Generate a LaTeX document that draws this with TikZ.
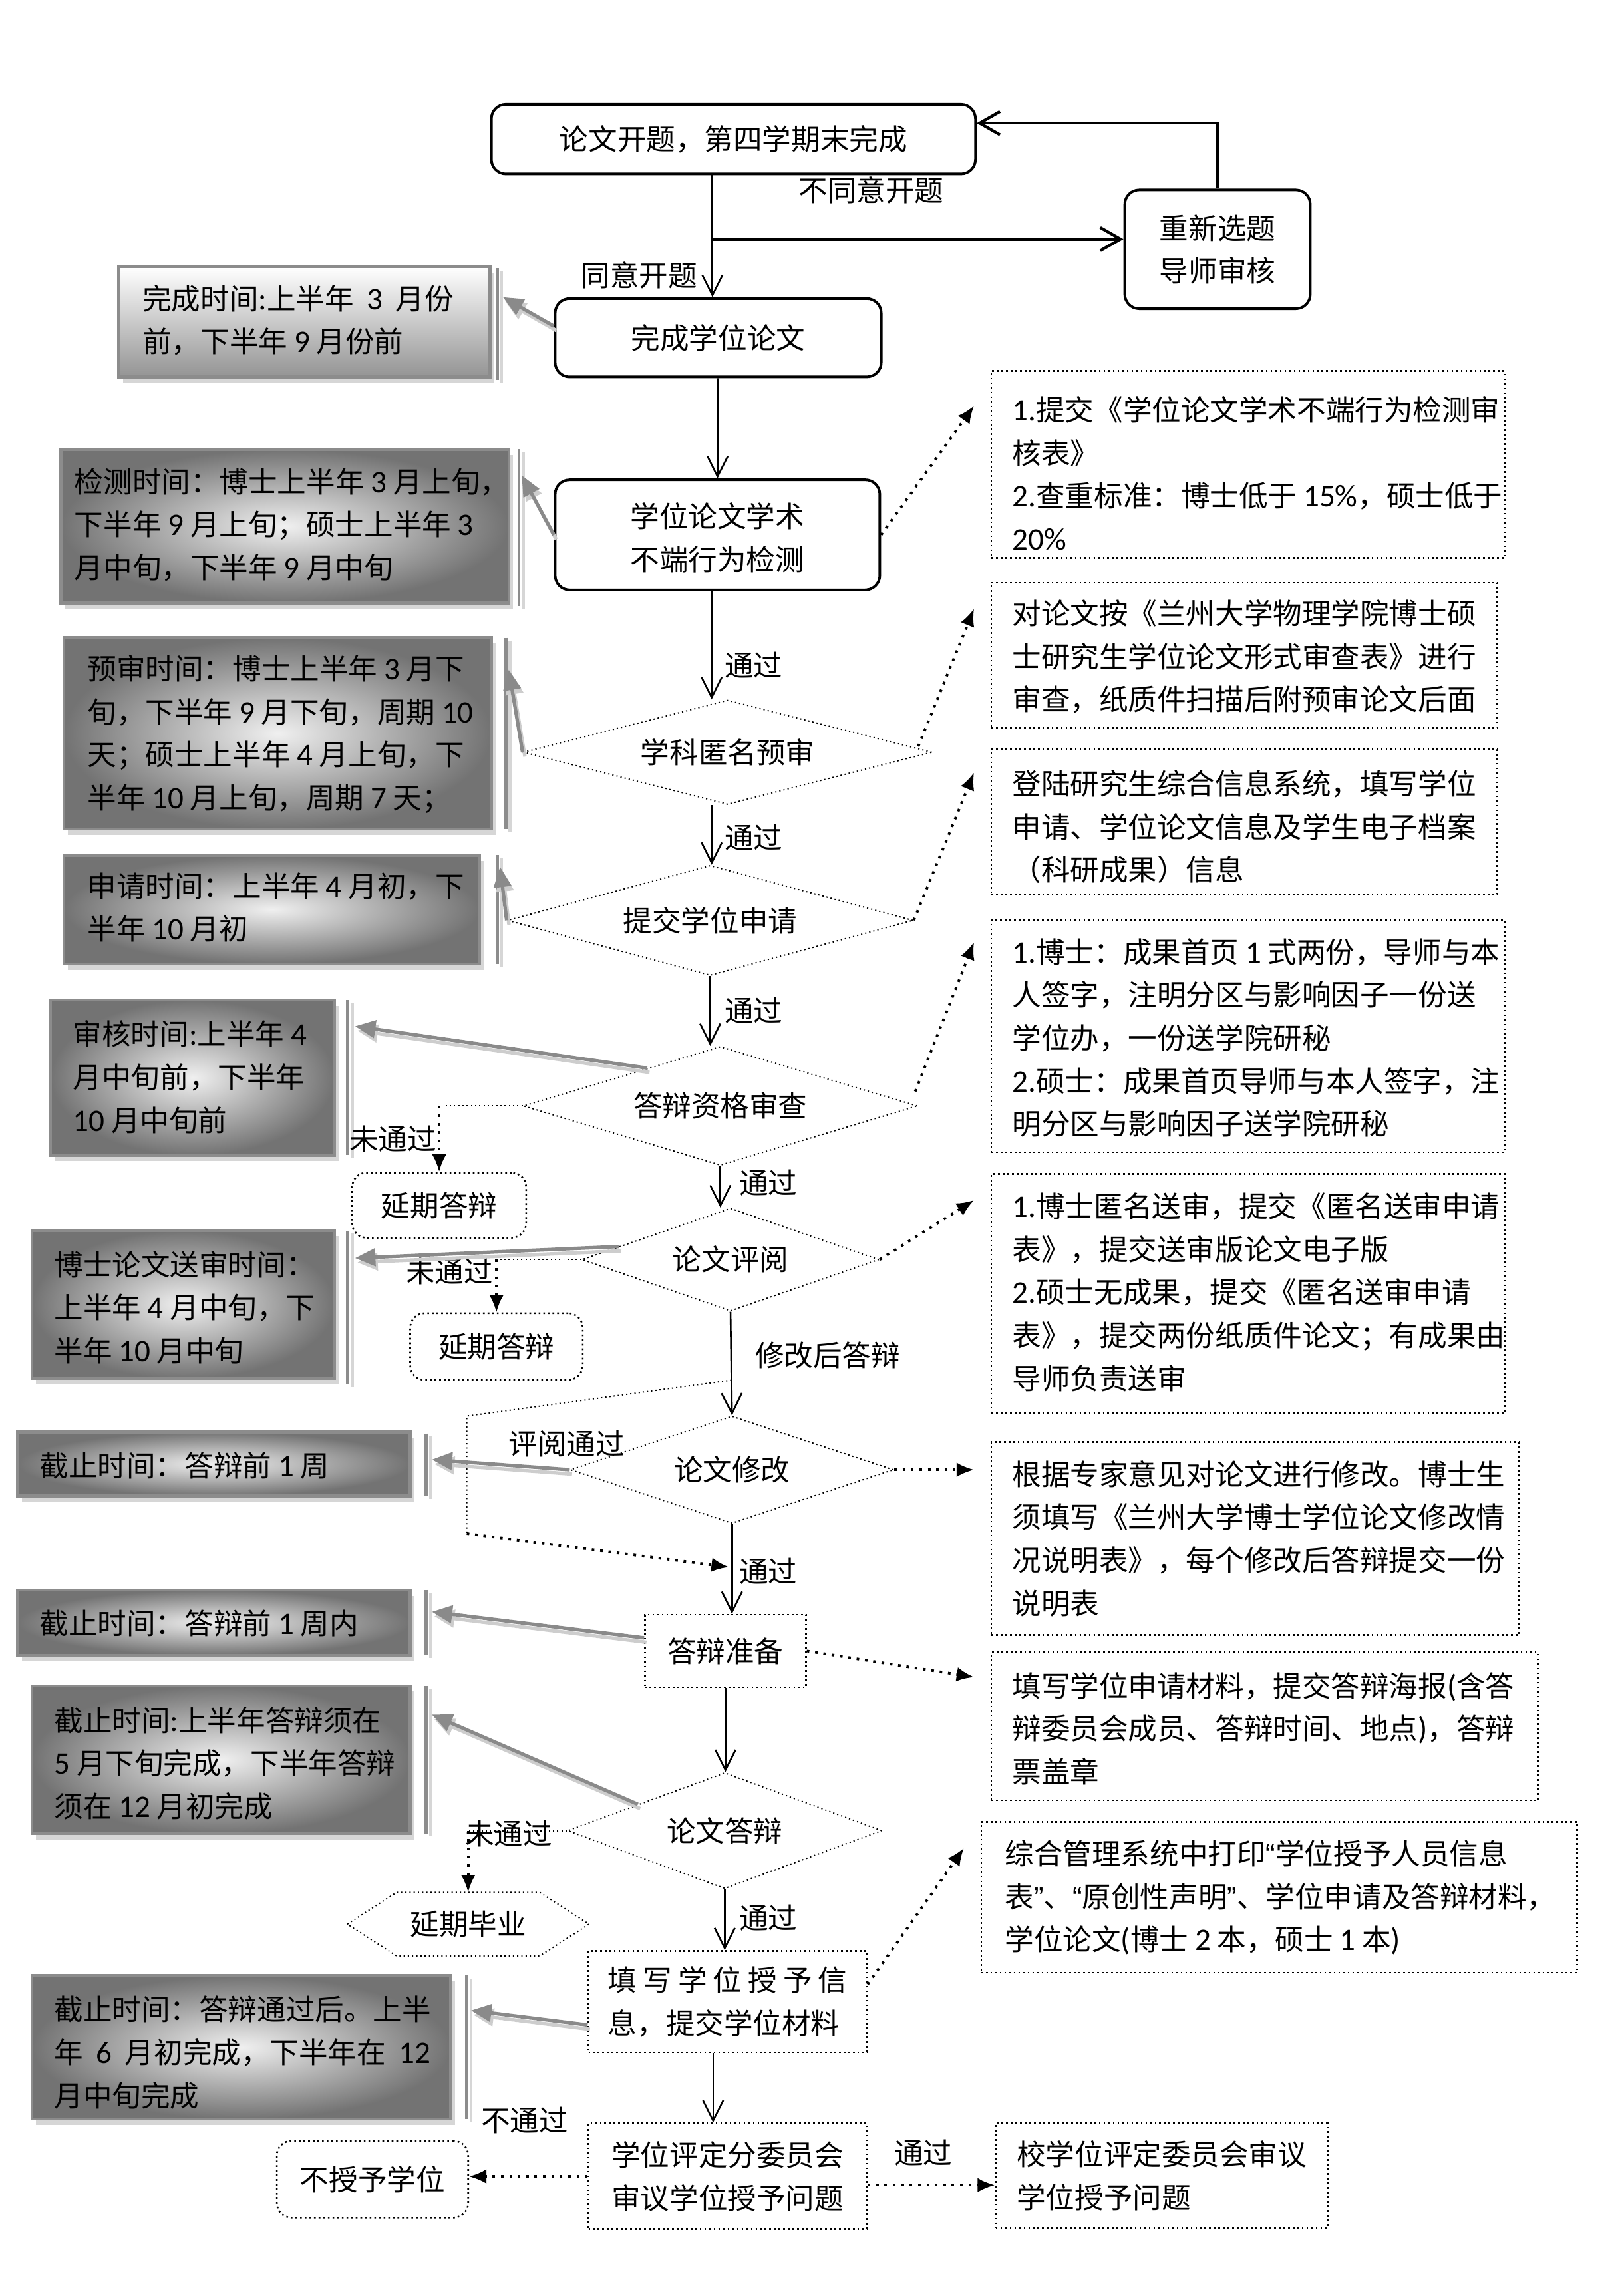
\documentclass[tikz,border=0pt]{standalone}
\usepackage{fontspec}
\setmainfont{Noto Sans CJK SC}
\newfontfamily\latf[Scale=1.08]{Carlito}
\newfontfamily\quof{Liberation Sans}
\newcommand{\dg}[1]{{\latf #1}}
\newcommand{\lqt}{{\quof “}}
\newcommand{\rqt}{{\quof ”}}
\usetikzlibrary{shapes.geometric,arrows.meta,calc,fit}
\definecolor{gborder}{HTML}{8C8C8C}
\definecolor{gshadow}{HTML}{D6D6D6}
\definecolor{garrow}{HTML}{8A8A8A}
\definecolor{garrowl}{HTML}{CDCDCD}
\newcommand{\grayarrow}[2]{\draw[garrl] ([shift={(0.8pt,-1.5pt)}]#1) -- ([shift={(0.8pt,-1.5pt)}]#2); \draw[garr] (#1) -- (#2);}
\newcommand{\grayvline}[3]{\draw[vlinel] (#1+3,#2+2) -- (#1+3,#3+2); \draw[vline] (#1,#2) -- (#1,#3);}
\newcommand{\grayshadow}[4]{\fill[gshadow] (#1+3,#2+4) rectangle (#3+3,#4+4);}
\begin{document}
\begin{tikzpicture}[x=0.5pt,y=-0.5pt,font=\fontsize{10}{14.83}\selectfont,
 rbox/.style={draw,line width=0.9pt,rounded corners=5pt,inner sep=0pt},
 dbox/.style={draw,densely dotted,line width=0.6pt,inner sep=0pt},
 rdbox/.style={dbox,rounded corners=5pt},
 dia/.style={diamond,draw,densely dotted,line width=0.45pt,inner sep=0pt},
 flow/.style={-{Straight Barb[length=7pt,width=7pt]},line width=0.6pt},
 tflow/.style={-{Straight Barb[length=7pt,width=8pt]},line width=1pt},
 dar/.style={-{Latex[length=6pt,width=5pt]},dotted,line width=0.9pt},
 finedot/.style={densely dotted,line width=0.45pt},
 txt/.style={inner sep=0pt,align=left,anchor=west},
 lbl/.style={inner sep=0pt,align=center},
 lbll/.style={inner sep=0pt,align=left},
 gbox/.style={draw=gborder,line width=1pt,inner sep=0pt,inner color=gray!12,outer color=black!55},
 garr/.style={draw=garrow,line width=1.2pt,-{Triangle[length=7pt,width=6pt,fill=garrow]}},
 garrl/.style={draw=garrowl,line width=1.2pt,-{Triangle[length=7pt,width=6pt,fill=garrowl]}},
 vline/.style={draw=gborder,line width=1.1pt},
 vlinel/.style={draw=gshadow,line width=1.1pt}]
\fill[white] (0,0) rectangle (1120,1570.26);
\useasboundingbox (0,0) rectangle (1120,1570.26);

% ---------- main column ----------
\node[rbox,fit={(339,72)(673,120)}] (A) {};
\node[lbl] (At) at (A.center) {论文开题，第四学期末完成};
\node[rbox,fit={(776,131)(904,213)}] (B) {};
\node[lbl] (Bt) at (B.center) {重新选题\\导师审核};
\node[rbox,fit={(383,206)(608,260)}] (C) {};
\node[lbl] (Ct) at (C.center) {完成学位论文};
\node[rbox,fit={(383,331)(607,407)}] (D) {};
\node[lbl] (Dt) at ([yshift=-1pt]D.center) {学位论文学术\\不端行为检测};
\node[dia,minimum width=141pt,minimum height=36pt,aspect=3.917] (E1) at (502,519) {学科匿名预审};
\node[dia,minimum width=140pt,minimum height=38pt,aspect=3.684] (E2) at (490,635) {提交学位申请};
\node[dia,minimum width=136pt,minimum height=41pt,aspect=3.317] (E3) at (497,763) {答辩资格审查};
\node[dia,minimum width=102.5pt,minimum height=35.5pt,aspect=2.887] (E4) at (504,869) {论文评阅};
\node[dia,minimum width=111.5pt,minimum height=37pt,aspect=3.014] (E5) at (505,1014) {论文修改};
\node[dbox,fit={(445,1114)(556,1164)}] (F) {};
\node[lbl] (Ft) at (F.center) {答辩准备};
\node[dia,minimum width=108.5pt,minimum height=40pt,aspect=2.7125] (E6) at (500,1263) {论文答辩};
\node[dbox,fit={(406,1346)(598,1416)}] (H) {};
\node[lbll] (Ht) at (H.center) {\makebox[82.5pt]{填\hfill 写\hfill 学\hfill 位\hfill 授\hfill 予\hfill 信}\\息，提交学位材料};
\node[dbox,fit={(406,1465)(598,1538)}] (I) {};
\node[lbll] (It) at (I.center) {学位评定分委员会\\审议学位授予问题};
\node[rdbox,fit={(191,1477)(323,1530)}] (J) {};
\node[lbl] (Jt) at (J.center) {不授予学位};
\node[dbox,fit={(687,1465)(916,1537)}] (K) {};
\node[lbll] (Kt) at (K.center) {校学位评定委员会审议\\学位授予问题};
\node[rdbox,fit={(243,809)(363,854)}] (Y1) {};
\node[lbl] (Y1t) at (Y1.center) {延期答辩};
\node[rdbox,fit={(283,906)(402,952)}] (Y2) {};
\node[lbl] (Y2t) at (Y2.center) {延期答辩};
\node[lbl,minimum width=83pt,minimum height=21.5pt] (Hx) at (323,1327.5) {延期毕业};
\draw[finedot] (Hx.west) -- ([xshift=17pt]Hx.north west) -- ([xshift=-17pt]Hx.north east) -- (Hx.east) -- ([xshift=-17pt]Hx.south east) -- ([xshift=17pt]Hx.south west) -- cycle;

% ---------- right notes ----------
\node[dbox,fit={(684,256)(1038,385)}] (R1) {};
\node[txt] (R1t) at (698,326.5) {\dg{1.}提交《学位论文学术不端行为检测审\\核表》\\\dg{2.}查重标准：博士低于 \dg{15\%}，硕士低于\\\dg{20\%}};
\node[dbox,fit={(684,402)(1033,502)}] (R2) {};
\node[txt] (R2t) at (698,453) {对论文按《兰州大学物理学院博士硕\\士研究生学位论文形式审查表》进行\\审查，纸质件扫描后附预审论文后面};
\node[dbox,fit={(684,517)(1033,617)}] (R3) {};
\node[txt] (R3t) at (698,570.5) {登陆研究生综合信息系统，填写学位\\申请、学位论文信息及学生电子档案\\（科研成果）信息};
\node[dbox,fit={(684,635)(1038,795)}] (R4) {};
\node[txt] (R4t) at (698,716) {\dg{1.}博士：成果首页 \dg{1} 式两份，导师与本\\人签字，注明分区与影响因子一份送\\学位办，一份送学院研秘\\\dg{2.}硕士：成果首页导师与本人签字，注\\明分区与影响因子送学院研秘};
\node[dbox,fit={(684,810)(1038,975)}] (R5) {};
\node[txt] (R5t) at (698,891.5) {\dg{1.}博士匿名送审，提交《匿名送审申请\\表》，提交送审版论文电子版\\\dg{2.}硕士无成果，提交《匿名送审申请\\表》，提交两份纸质件论文；有成果由\\导师负责送审};
\node[dbox,fit={(684,995)(1048,1128)}] (R6) {};
\node[txt] (R6t) at (698,1061.5) {根据专家意见对论文进行修改。博士生\\须填写《兰州大学博士学位论文修改情\\况说明表》，每个修改后答辩提交一份\\说明表};
\node[dbox,fit={(684,1140)(1061,1242)}] (R7) {};
\node[txt] (R7t) at (698,1192.5) {填写学位申请材料，提交答辩海报\dg{(}含答\\辩委员会成员、答辩时间、地点\dg{)}，答辩\\票盖章};
\node[dbox,fit={(677,1257)(1088,1361)}] (R8) {};
\node[txt] (R8t) at (693,1309) {综合管理系统中打印\lqt 学位授予人员信息\\表\rqt 、\lqt 原创性声明\rqt 、学位申请及答辩材料，\\学位论文\dg{(}博士 \dg{2} 本，硕士 \dg{1} 本\dg{)}};

% ---------- gray time boxes ----------
\grayshadow{82}{184}{338}{260}
\node[gbox,top color=white,bottom color=black!42,fit={(82,184)(338,260)}] (G1) {};
\node[txt] (G1t) at (98,221) {完成时间\dg{:}上半年\ \ \dg{3}\ \ 月份\\前，下半年 \dg{9} 月份前};
\grayvline{343}{185}{262}

\grayshadow{42}{310}{351}{416}
\node[gbox,fit={(42,310)(351,416)}] (G2) {};
\node[txt] (G2t) at (51,362) {检测时间：博士上半年 \dg{3} 月上旬，\\下半年 \dg{9} 月上旬；硕士上半年 \dg{3}\\月中旬，下半年 \dg{9} 月中旬};
\grayvline{358}{310}{418}

\grayshadow{44}{440}{339}{572}
\node[gbox,fit={(44,440)(339,572)}] (G3) {};
\node[txt] (G3t) at (60,506.5) {预审时间：博士上半年 \dg{3} 月下\\旬，下半年 \dg{9} 月下旬，周期 \dg{10}\\天；硕士上半年 \dg{4} 月上旬，下\\半年 \dg{10} 月上旬，周期 \dg{7} 天；};
\grayvline{349}{440}{572}

\grayshadow{44}{590}{331}{665}
\node[gbox,fit={(44,590)(331,665)}] (G4) {};
\node[txt] (G4t) at (60,626) {申请时间：上半年 \dg{4} 月初，下\\半年 \dg{10} 月初};
\grayvline{343}{590}{665}

\grayshadow{35}{690}{231}{797}
\node[gbox,fit={(35,690)(231,797)}] (G5) {};
\node[txt] (G5t) at (50,743) {审核时间\dg{:}上半年 \dg{4}\\月中旬前，下半年\\\dg{10} 月中旬前};
\grayvline{240}{690}{797}

\grayshadow{22}{849}{231}{951}
\node[gbox,fit={(22,849)(231,951)}] (G6) {};
\node[txt] (G6t) at (37,902) {博士论文送审时间：\\上半年 \dg{4} 月中旬，下\\半年 \dg{10} 月中旬};
\grayvline{240}{849}{955}

\grayshadow{12}{988}{283}{1032}
\node[gbox,fit={(12,988)(283,1032)}] (G7) {};
\node[txt] (G7t) at (27,1011) {截止时间：答辩前 \dg{1} 周};
\grayvline{294}{989}{1032}

\grayshadow{12}{1097}{283}{1142}
\node[gbox,fit={(12,1097)(283,1142)}] (G8) {};
\node[txt] (G8t) at (27,1120) {截止时间：答辩前 \dg{1} 周内};
\grayvline{294}{1097}{1142}

\grayshadow{22}{1163}{283}{1265}
\node[gbox,fit={(22,1163)(283,1265)}] (G9) {};
\node[txt] (G9t) at (37,1216.5) {截止时间\dg{:}上半年答辩须在\\\dg{5} 月下旬完成，下半年答辩\\须在 \dg{12} 月初完成};
\grayvline{294}{1163}{1265}

\grayshadow{22}{1363}{311}{1462}
\node[gbox,fit={(22,1363)(311,1462)}] (G10) {};
\node[txt] (G10t) at (37,1416) {截止时间：答辩通过后。上半\\年\ \ \dg{6}\ \ 月初完成，下半年在\ \ \dg{12}\\月中旬完成};
\grayvline{322}{1363}{1462}

% ---------- labels ----------
\node[lbl] (l1) at (601,131) {不同意开题};
\node[lbl] (l2) at (441,190) {同意开题};
\node[lbl] (l3) at (520,459) {通过};
\node[lbl] (l4) at (520,578) {通过};
\node[lbl] (l5) at (520,697) {通过};
\node[lbl] (l6) at (530,816) {通过};
\node[lbl] (l7) at (271,786) {未通过};
\node[lbl] (l8) at (310,877) {未通过};
\node[lbl] (l9) at (571,935) {修改后答辩};
\node[lbl] (l10) at (391,996) {评阅通过};
\node[lbl] (l11) at (530,1084) {通过};
\node[lbl] (l12) at (351,1265) {未通过};
\node[lbl] (l13) at (530,1323) {通过};
\node[lbl] (l14) at (362,1463) {不通过};
\node[lbl] (l15) at (637,1485) {通过};

% ---------- main flow ----------
\coordinate (c0) at ([xshift=-2pt]A.south -| C.north);
\draw[flow] (c0) -- (c0 |- C.north);
\coordinate (br) at ($(c0)!0.523!(c0 |- C.north)$);
\draw[tflow] (br) -- (br -| B.west);
\draw[tflow] (B.north) |- ([yshift=5.5pt]A.east);
\draw[flow] (C.south) -- (D.north);
\draw[flow] ([xshift=-2pt]D.south) -- ([xshift=-2pt]D.south |- E1.north);
\coordinate (e1s) at ([xshift=-5.5pt]E1.south);
\draw[flow] (e1s) -- (e1s |- E2.north);
\draw[flow] (E2.south) -- (E2.south |- E3.north);
\draw[flow] (E3.south) -- (E3.south |- E4.north);
\draw[flow] (E4.south) -- (E5.north);
\draw[flow] (E5.south) -- (E5.south |- F.north);
\draw[flow] (F.south) -- (F.south |- E6.north);
\draw[flow] (E6.south) -- (E6.south |- H.north);
\draw[flow] ([xshift=-5pt]H.south) -- ([xshift=-5pt]I.north);

% loop
\coordinate (lp1) at ($(E4.south)!0.66!(E5.north)$);
\coordinate (lp2) at (322,977);
\coordinate (lp3) at (322,1058);
\coordinate (lp4) at ($(E5.south)!0.48!(F.north)$);
\draw[finedot] (lp1) -- (lp2) -- (lp3);
\draw[dar] (lp3) -- (lp4);

% not passed
\draw[finedot] (E3.west) -- (E3.west -| Y1.north);
\draw[dar] (E3.west -| Y1.north) -- (Y1.north);
\draw[finedot] (E4.west) -- (E4.west -| Y2.north);
\draw[dar] (E4.west -| Y2.north) -- (Y2.north);
\draw[finedot] (E6.west) -- (E6.west -| Hx.north);
\draw[dar] (E6.west -| Hx.north) -- (Hx.north);

% bottom
\draw[dar] (I.west) -- (I.west -| J.east);
\draw[dar] ([yshift=-3pt]I.east) -- ([yshift=-3pt]I.east -| K.west);

% ---------- dotted arrows to notes ----------
\coordinate (t1) at (672,280);
\coordinate (t2) at (672,420);
\coordinate (t3) at (672,533);
\coordinate (t4) at (672,650);
\coordinate (t5) at (672,828);
\coordinate (t6) at (672,1014);
\coordinate (t7) at (672,1157);
\coordinate (t8) at (665,1275);
\draw[dar] (D.east) -- (t1);
\draw[dar] ([shift={(-5pt,2pt)}]E1.east) -- (t2);
\draw[dar] (E2.east) -- (t3);
\draw[dar] ([shift={(-1pt,5pt)}]E3.east) -- (t4);
\draw[dar] (E4.east) -- (t5);
\draw[dar] (E5.east) -- (t6);
\draw[dar] (F.east) -- (t7);
\draw[dar] ([yshift=6pt]H.east) -- (t8);

% ---------- gray arrows ----------
\coordinate (g1s) at ([yshift=4pt]C.west);   \coordinate (g1t) at (347,205);
\coordinate (g2s) at (D.west);               \coordinate (g2t) at (360,328);
\coordinate (g3s) at (E1.west);              \coordinate (g3t) at (351,462);
\coordinate (g4s) at (E2.west);              \coordinate (g4t) at (345,598);
\coordinate (g5s) at ($(E3.west)!0.63!(E3.north)$); \coordinate (g5t) at (245,708);
\coordinate (g6s) at ($(E4.west)!0.25!(E4.north)$); \coordinate (g6t) at (245,868);
\coordinate (g7s) at (E5.west);              \coordinate (g7t) at (298,1007);
\coordinate (g8s) at ([yshift=4.5pt]F.west); \coordinate (g8t) at (298,1112);
\coordinate (g9s) at ($(E6.west)!0.45!(E6.north)$); \coordinate (g9t) at (298,1183);
\coordinate (g10s) at ([yshift=-8pt]H.west); \coordinate (g10t) at (325,1387);
\grayarrow{g1s}{g1t}
\grayarrow{g2s}{g2t}
\grayarrow{g3s}{g3t}
\grayarrow{g4s}{g4t}
\grayarrow{g5s}{g5t}
\grayarrow{g6s}{g6t}
\grayarrow{g7s}{g7t}
\grayarrow{g8s}{g8t}
\grayarrow{g9s}{g9t}
\grayarrow{g10s}{g10t}
\end{tikzpicture}
\end{document}
